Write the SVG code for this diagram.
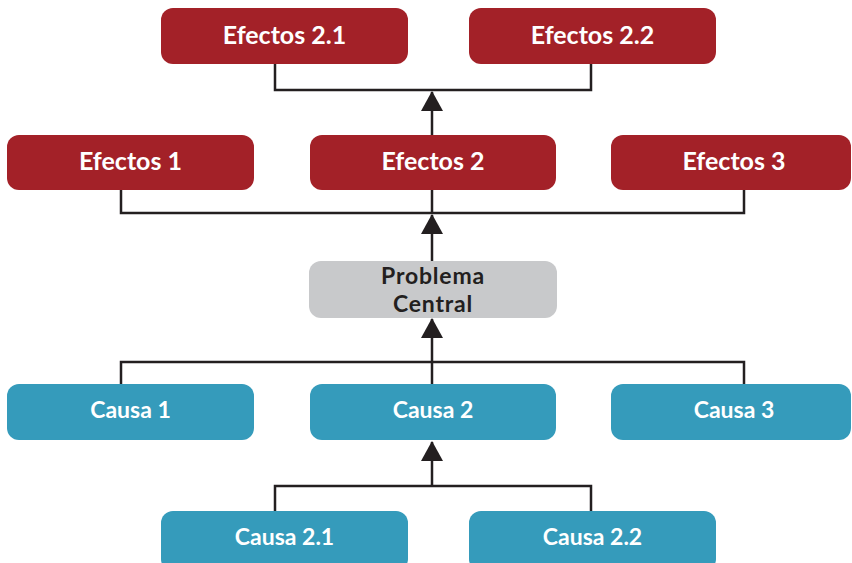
<svg xmlns="http://www.w3.org/2000/svg" width="852" height="563" viewBox="0 0 852 563">
<defs>
<style>
.ef{fill:#a32128}
.ca{fill:#359bbb}
.pc{fill:#c8c9cb}
.t{font-family:Lato,"Liberation Sans",sans-serif;font-weight:700;text-anchor:middle;fill:#ffffff}
.te{font-size:25px}
.tc{font-size:23px}
.tp{font-size:23px;letter-spacing:0.8px;fill:#231f20}
.ln{fill:none;stroke:#231f20;stroke-width:2.5}
</style>
<marker id="ah" viewBox="0 0 20 22" refX="19" refY="11" markerUnits="userSpaceOnUse" markerWidth="20" markerHeight="22" orient="auto">
<path d="M0,0 L20,11 L0,22 z" fill="#231f20"/>
</marker>
</defs>
<rect width="852" height="563" fill="#ffffff"/>
<g id="connectors">
<path class="ln" d="M275,64 V90 H591 V64"/>
<path class="ln" d="M432,135 V92" marker-end="url(#ah)"/>
<path class="ln" d="M121,190 V213 H744 V190"/>
<path class="ln" d="M432,190 V213"/>
<path class="ln" d="M432,261 V215" marker-end="url(#ah)"/>
<path class="ln" d="M121,384 V362 H744 V384"/>
<path class="ln" d="M432,384 V362"/>
<path class="ln" d="M432,362 V319" marker-end="url(#ah)"/>
<path class="ln" d="M275,511 V486 H591 V511"/>
<path class="ln" d="M432,486 V442" marker-end="url(#ah)"/>
</g>
<g id="efectos21"><rect class="ef" x="161" y="8" width="247" height="56" rx="12"/><text class="t te" x="284.5" y="44">Efectos 2.1</text></g>
<g id="efectos22"><rect class="ef" x="469" y="8" width="247" height="56" rx="12"/><text class="t te" x="592.5" y="44">Efectos 2.2</text></g>
<g id="efectos1"><rect class="ef" x="7" y="135" width="247" height="55" rx="12"/><text class="t te" x="130.5" y="170">Efectos 1</text></g>
<g id="efectos2"><rect class="ef" x="310" y="135" width="246" height="55" rx="12"/><text class="t te" x="433" y="170">Efectos 2</text></g>
<g id="efectos3"><rect class="ef" x="611" y="135" width="240" height="55" rx="12"/><text class="t te" x="734" y="170">Efectos 3</text></g>
<g id="problema"><rect class="pc" x="309" y="261" width="248" height="57" rx="12"/><text class="t tp" x="433" y="284">Problema</text><text class="t tp" x="433" y="312">Central</text></g>
<g id="causa1"><rect class="ca" x="7" y="384" width="247" height="56" rx="12"/><text class="t tc" x="130.5" y="418">Causa 1</text></g>
<g id="causa2"><rect class="ca" x="310" y="384" width="246" height="56" rx="12"/><text class="t tc" x="433" y="418">Causa 2</text></g>
<g id="causa3"><rect class="ca" x="611" y="384" width="240" height="56" rx="12"/><text class="t tc" x="734" y="418">Causa 3</text></g>
<g id="causa21"><rect class="ca" x="161" y="511" width="247" height="60" rx="12"/><text class="t tc" x="284.5" y="545">Causa 2.1</text></g>
<g id="causa22"><rect class="ca" x="469" y="511" width="247" height="60" rx="12"/><text class="t tc" x="592.5" y="545">Causa 2.2</text></g>
</svg>
